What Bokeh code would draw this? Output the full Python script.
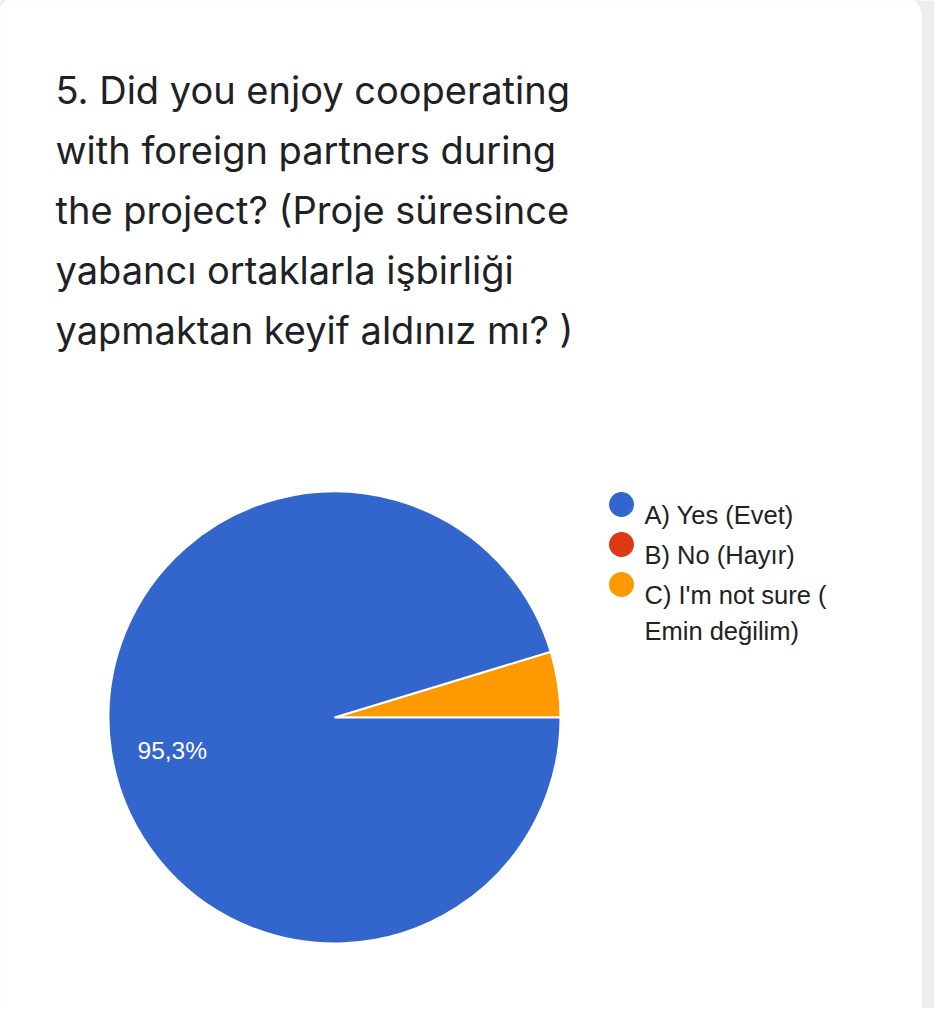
import numpy as np
from bokeh.plotting import figure
from bokeh.models import Range1d, BoxAnnotation
from bokeh.core.properties import value
from bokeh.embed import file_html
from bokeh.resources import INLINE

# data
title_lines = [
    "5. Did you enjoy cooperating",
    "with foreign partners during",
    "the project? (Proje süresince",
    "yabancı ortaklarla işbirliği",
    "yapmaktan keyif aldınız mı? )",
]
labels = ["A) Yes (Evet)", "B) No (Hayır)", "C) I'm not sure ( Emin değilim)"]
legend_lines = [["A) Yes (Evet)"], ["B) No (Hayır)"], ["C) I'm not sure (", "Emin değilim)"]]
shares = [95.3, 0.0, 4.7]
colors = ["#3366cc", "#dc3912", "#ff9900"]

W, H = 934, 1008
p = figure(width=W, height=H, output_backend="svg", toolbar_location=None,
           x_range=Range1d(8, 8 + W), y_range=Range1d(1024 - 8 - H, 1016),
           min_border=0)
p.axis.visible = False
p.grid.visible = False
p.outline_line_color = None
p.background_fill_color = "#ededed"
p.border_fill_color = "#ededed"

# white card
p.add_layout(BoxAnnotation(left=5, right=930, bottom=-40, top=1022,
                           fill_color="white", fill_alpha=1.0,
                           line_color="#dcdcdc", line_width=1.5,
                           border_radius=22, level="underlay"))

# title
for i, line in enumerate(title_lines):
    p.text(x=[63], y=[1024 - (97 + 60 * i)], text=[line],
           text_font=value("Inter"), text_font_size="38px",
           text_color="#202124", text_baseline="alphabetic")

# pie: orange slice from 3 o'clock counter-clockwise, then the rest
cx, cy, r = 342, 1024 - 725, 226
frac = np.array(shares) / sum(shares)
order = [2, 1, 0]
start = 0.0
for k in order:
    end = start + frac[k] * 2 * np.pi
    if frac[k] > 0:
        p.wedge(x=[cx], y=[cy], radius=r, start_angle=start, end_angle=end,
                fill_color=colors[k], line_color="white", line_width=2)
    start = end

# slice label
p.text(x=[145], y=[1024 - 758], text=[f"{shares[0]:.1f}%".replace(".", ",")],
       text_font=value("Liberation Sans"), text_font_size="24.5px",
       text_color="white", text_baseline="alphabetic")

# legend
ly = [512, 552, 592]
for i, lines in enumerate(legend_lines):
    p.scatter(x=[629], y=[1024 - ly[i]], size=25, marker="circle",
              fill_color=colors[i], line_color=None)
    for j, t in enumerate(lines):
        p.text(x=[652], y=[1024 - (ly[i] + 10 + 36 * j)], text=[t],
               text_font=value("Liberation Sans"), text_font_size="25.5px",
               text_color="#222222", text_baseline="alphabetic")

open("out.html", "w").write(file_html(p, INLINE))
